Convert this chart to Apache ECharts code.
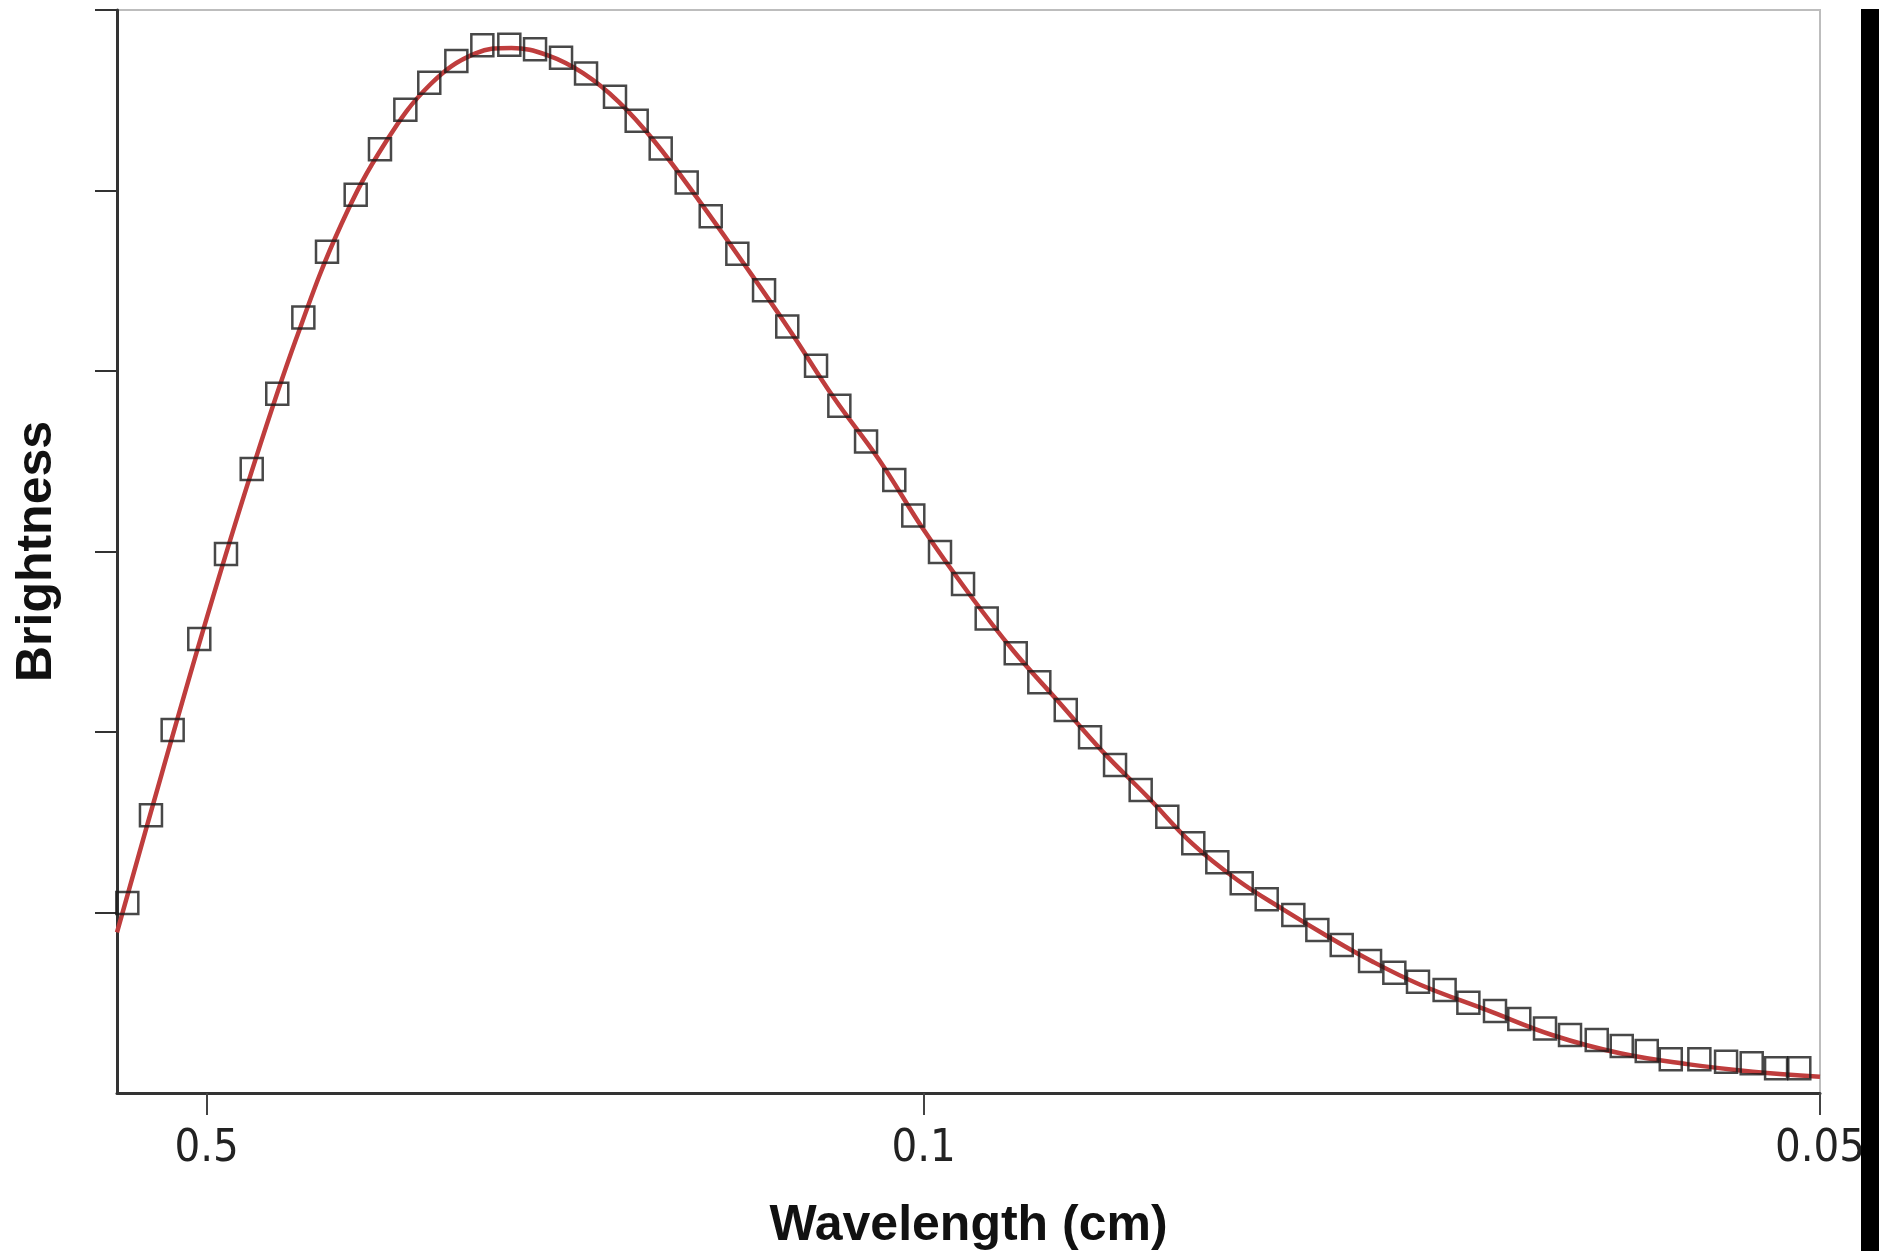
<!DOCTYPE html>
<html>
<head>
<meta charset="utf-8">
<title>Brightness vs Wavelength</title>
<script src="https://cdn.jsdelivr.net/npm/echarts@6/dist/echarts.min.js"></script>
<style>
  html, body { margin: 0; padding: 0; background: #ffffff; }
  #chart { width: 1879px; height: 1251px; }
</style>
</head>
<body>
<div id="chart"></div>
<script>
// Measured points: horizontal position in inverse wavelength (1/cm), brightness in arbitrary units
const measuredFreq = [
  1.115, 1.379, 1.621, 1.918, 2.216, 2.503, 2.788, 3.079, 3.343, 3.663,
  3.934, 4.217, 4.484, 4.786, 5.076, 5.377, 5.664, 5.954, 6.233, 6.556,
  6.798, 7.066, 7.356, 7.624, 7.921, 8.219, 8.478, 8.799, 9.059, 9.357,
  9.672, 9.884, 10.182, 10.439, 10.703, 11.027, 11.290, 11.585, 11.856, 12.135,
  12.421, 12.718, 13.008, 13.276, 13.548, 13.827, 14.124, 14.392, 14.664, 14.980,
  15.251, 15.515, 15.812, 16.077, 16.374, 16.645, 16.932, 17.211, 17.509, 17.788,
  18.067, 18.335, 18.654, 18.952, 19.238, 19.510, 19.769
];
const measuredBrightness = [
  1.052, 1.539, 2.011, 2.515, 2.986, 3.457, 3.874, 4.296, 4.660, 4.976,
  5.229, 5.447, 5.597, 5.717, 5.805, 5.808, 5.782, 5.735, 5.648, 5.519,
  5.387, 5.232, 5.044, 4.857, 4.649, 4.447, 4.247, 4.029, 3.808, 3.610,
  3.396, 3.200, 2.997, 2.820, 2.629, 2.436, 2.275, 2.122, 1.971, 1.817,
  1.679, 1.531, 1.383, 1.278, 1.162, 1.073, 0.986, 0.903, 0.820, 0.731,
  0.666, 0.617, 0.571, 0.500, 0.454, 0.410, 0.358, 0.321, 0.294, 0.260,
  0.233, 0.187, 0.187, 0.173, 0.165, 0.137, 0.137
];

// Fitted spectrum curve
const curveFreq = [
  1.00, 1.50, 2.00, 2.50, 3.00, 3.50, 4.00, 4.50, 5.00, 5.40,
  5.80, 6.20, 6.60, 7.00, 7.50, 8.00, 8.50, 9.00, 9.50, 10.00,
  10.50, 11.00, 11.50, 12.00, 12.50, 13.00, 13.50, 14.00, 14.50, 15.00,
  15.54, 16.28, 17.02, 17.77, 18.52, 19.25, 20.00
];
const curveBrightness = [
  0.89, 1.77, 2.63, 3.44, 4.18, 4.81, 5.27, 5.59, 5.76, 5.79,
  5.75, 5.65, 5.49, 5.27, 4.94, 4.59, 4.23, 3.85, 3.51, 3.12,
  2.77, 2.45, 2.17, 1.89, 1.64, 1.38, 1.18, 1.02, 0.87, 0.73,
  0.60, 0.46, 0.32, 0.22, 0.16, 0.118, 0.090
];

// Wavelength tick labels (cm); placed at 1/wavelength on the axis
const wavelengthTicks = [0.5, 0.1, 0.05];
const brightnessTicks = [1, 2, 3, 4, 5, 6];

const tickPositions = wavelengthTicks.map(w => 1 / w);

const chart = echarts.init(document.getElementById('chart'), null, { renderer: 'canvas' });

const option = {
  backgroundColor: '#ffffff',
  animation: false,
  grid: {
    left: 117, right: 59, top: 10, bottom: 158,
    outerBoundsMode: 'none',
    containLabel: false,
    show: true,
    borderColor: '#bdbdbd',
    borderWidth: 2,
    backgroundColor: 'transparent'
  },
  xAxis: {
    type: 'value',
    min: 1,
    max: 20,
    name: 'Wavelength (cm)',
    nameLocation: 'middle',
    nameGap: 108,
    nameTextStyle: {
      fontFamily: 'Liberation Sans, Arial, sans-serif',
      fontWeight: 'bold',
      fontSize: 50,
      color: '#111'
    },
    axisLine: { show: true, lineStyle: { color: '#333', width: 3 } },
    axisTick: {
      show: true,
      length: 22,
      customValues: tickPositions,
      lineStyle: { color: '#444', width: 2 }
    },
    axisLabel: {
      show: true,
      customValues: tickPositions,
      margin: 34,
      fontFamily: 'DejaVu Sans Condensed, DejaVu Sans, sans-serif',
      fontSize: 45,
      color: '#222',
      formatter: function (v) {
        let best = wavelengthTicks[0];
        wavelengthTicks.forEach(w => { if (Math.abs(1 / w - v) < Math.abs(1 / best - v)) best = w; });
        return String(best);
      }
    },
    splitLine: { show: false }
  },
  yAxis: {
    type: 'value',
    min: 0,
    max: 6,
    interval: 1,
    name: 'Brightness',
    nameLocation: 'middle',
    nameRotate: 90,
    nameGap: 55,
    nameTextStyle: {
      fontFamily: 'Liberation Sans, Arial, sans-serif',
      fontWeight: 'bold',
      fontSize: 50,
      color: '#111'
    },
    axisLine: { show: true, lineStyle: { color: '#333', width: 3 } },
    axisTick: {
      show: true,
      length: 22,
      customValues: brightnessTicks,
      lineStyle: { color: '#333', width: 2 }
    },
    axisLabel: { show: false },
    splitLine: { show: false }
  },
  series: [
    {
      name: 'curve',
      type: 'line',
      data: curveFreq.map((f, i) => [f, curveBrightness[i]]),
      smooth: 0.4,
      showSymbol: false,
      symbol: 'none',
      lineStyle: { color: '#bf3d3d', width: 4.5 },
      z: 2,
      clip: true
    },
    {
      name: 'measured',
      type: 'scatter',
      data: measuredFreq.map((f, i) => [f, measuredBrightness[i]]),
      symbol: 'rect',
      symbolSize: 22,
      itemStyle: {
        color: 'rgba(0,0,0,0)',
        borderColor: '#1a1a1a',
        borderWidth: 2.5
      },
      z: 3
    }
  ],
  graphic: [
    {
      type: 'rect',
      z: 100,
      shape: { x: 1861, y: 9, width: 18, height: 1242 },
      style: { fill: '#000000' }
    }
  ]
};

chart.setOption(option);
</script>
</body>
</html>
